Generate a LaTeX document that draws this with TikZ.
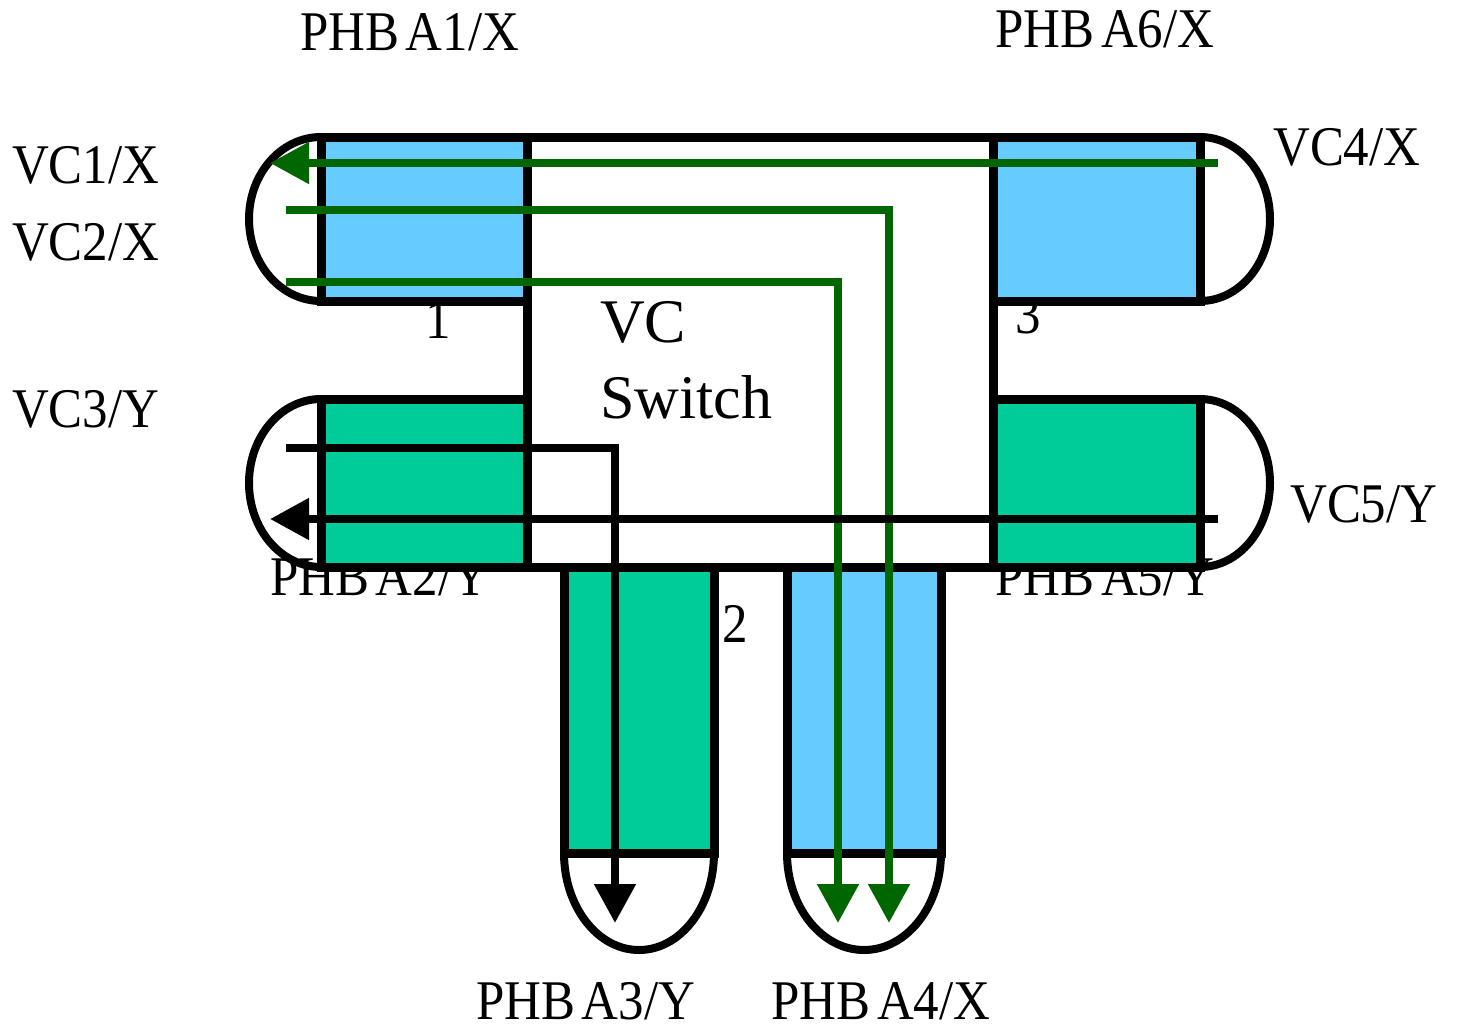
\documentclass[tikz,border=0pt]{standalone}
\usepackage{fontspec}
\setmainfont{Liberation Serif}
\newfontfamily\lblfont[FakeStretch=0.91]{Liberation Serif}
\usetikzlibrary{arrows.meta}
\definecolor{phbblue}{HTML}{66CCFF}
\definecolor{phbgreen}{HTML}{00CC99}
\definecolor{vcgreen}{HTML}{006600}
\begin{document}
\begin{tikzpicture}[x=1pt,y=-1pt,
  lbl/.style={inner sep=0pt, anchor=base west, font=\lblfont\fontsize{56}{60}\selectfont},
  swtitle/.style={inner sep=0pt, anchor=base west, font=\fontsize{62}{66}\selectfont},
  boxline/.style={draw=black, line width=9pt, line cap=rect, line join=miter},
  endarc/.style={draw=black, line width=8pt},
  greenvc/.style={draw=vcgreen, line width=8pt, line join=miter},
  blackvc/.style={draw=black, line width=8pt, line join=miter},
  vcarrow/.style={-{Triangle[length=39pt,width=40pt]}}
]
\useasboundingbox (0,0) rectangle (1457,1029);
\fill[white] (0,0) rectangle (1457,1029);

% labels (drawn first so outlines cover their tops)
\node[lbl] (l1) at (300,50) {PHB\kern0.12em A1/X};
\node[lbl] (l6) at (995,47) {PHB\kern0.12em A6/X};
\node[lbl] (vc1) at (12,183) {VC1/X};
\node[lbl] (vc2) at (12,260) {VC2/X};
\node[lbl] (vc3) at (12,427) {VC3/Y};
\node[lbl] (vc4) at (1273,165) {VC4/X};
\node[lbl] (vc5) at (1290,522) {VC5/Y};
\node[lbl] (n1) at (425,338) {1};
\node[lbl] (n3) at (1015,333) {3};
\node[lbl] (n2) at (722,642) {2};
\node[swtitle] (sw1) at (600,342) {VC};
\node[swtitle] (sw2) at (600,418) {Switch};
\node[lbl] (l2) at (270,595) {PHB\kern0.12em A2/Y};
\node[lbl] (l5) at (995,595) {PHB\kern0.12em A5/Y};
\node[lbl] (l3) at (476,1019) {PHB\kern0.12em A3/Y};
\node[lbl] (l4) at (771,1019) {PHB\kern0.12em A4/X};

% fills
\fill[phbblue] (321,137) rectangle (527,301);
\fill[phbblue] (993,137) rectangle (1200,301);
\fill[phbgreen] (321,399) rectangle (527,567);
\fill[phbgreen] (993,399) rectangle (1200,567);
\fill[phbgreen] (564,567) rectangle (714,853);
\fill[phbblue] (787,567) rectangle (941,853);

% end caps
\draw[endarc] (321,137) arc[start angle=-90, end angle=-270, x radius=72, y radius=82];
\draw[endarc] (321,399) arc[start angle=-90, end angle=-270, x radius=72, y radius=84];
\draw[endarc] (1200,137) arc[start angle=-90, end angle=90, x radius=70, y radius=82];
\draw[endarc] (1200,399) arc[start angle=-90, end angle=90, x radius=70, y radius=84];
\draw[endarc] (564,853) arc[start angle=180, end angle=0, x radius=75, y radius=97];
\draw[endarc] (787,853) arc[start angle=180, end angle=0, x radius=77, y radius=97];

% outlines
\draw[boxline] (321,137) -- (1200,137);
\draw[boxline] (321,567) -- (1200,567);
\draw[boxline] (527,137) -- (527,567);
\draw[boxline] (993,137) -- (993,567);
\draw[boxline] (321,137) -- (321,301) -- (527,301);
\draw[boxline] (993,301) -- (1200,301) -- (1200,137);
\draw[boxline] (527,399) -- (321,399) -- (321,567);
\draw[boxline] (993,399) -- (1200,399) -- (1200,567);
\draw[boxline] (564,567) -- (564,853) -- (714,853) -- (714,567);
\draw[boxline] (787,567) -- (787,853) -- (941,853) -- (941,567);

% VC paths
\coordinate (a1) at (1218,163); \coordinate (b1) at (270,163);
\coordinate (a2) at (286,210); \coordinate (k2) at (889,210); \coordinate (b2) at (889,923);
\coordinate (a3) at (286,282); \coordinate (k3) at (838,282); \coordinate (b3) at (838,923);
\coordinate (a4) at (286,448); \coordinate (k4) at (615,448); \coordinate (b4) at (615,923);
\coordinate (a5) at (1218,519); \coordinate (b5) at (270,519);

\draw[greenvc, vcarrow, vcgreen] (a1) -- (b1);
\draw[greenvc, vcarrow, vcgreen] (a2) -- (k2) -- (b2);
\draw[greenvc, vcarrow, vcgreen] (a3) -- (k3) -- (b3);
\draw[blackvc, vcarrow] (a4) -- (k4) -- (b4);
\draw[blackvc, vcarrow] (a5) -- (b5);
\end{tikzpicture}
\end{document}
